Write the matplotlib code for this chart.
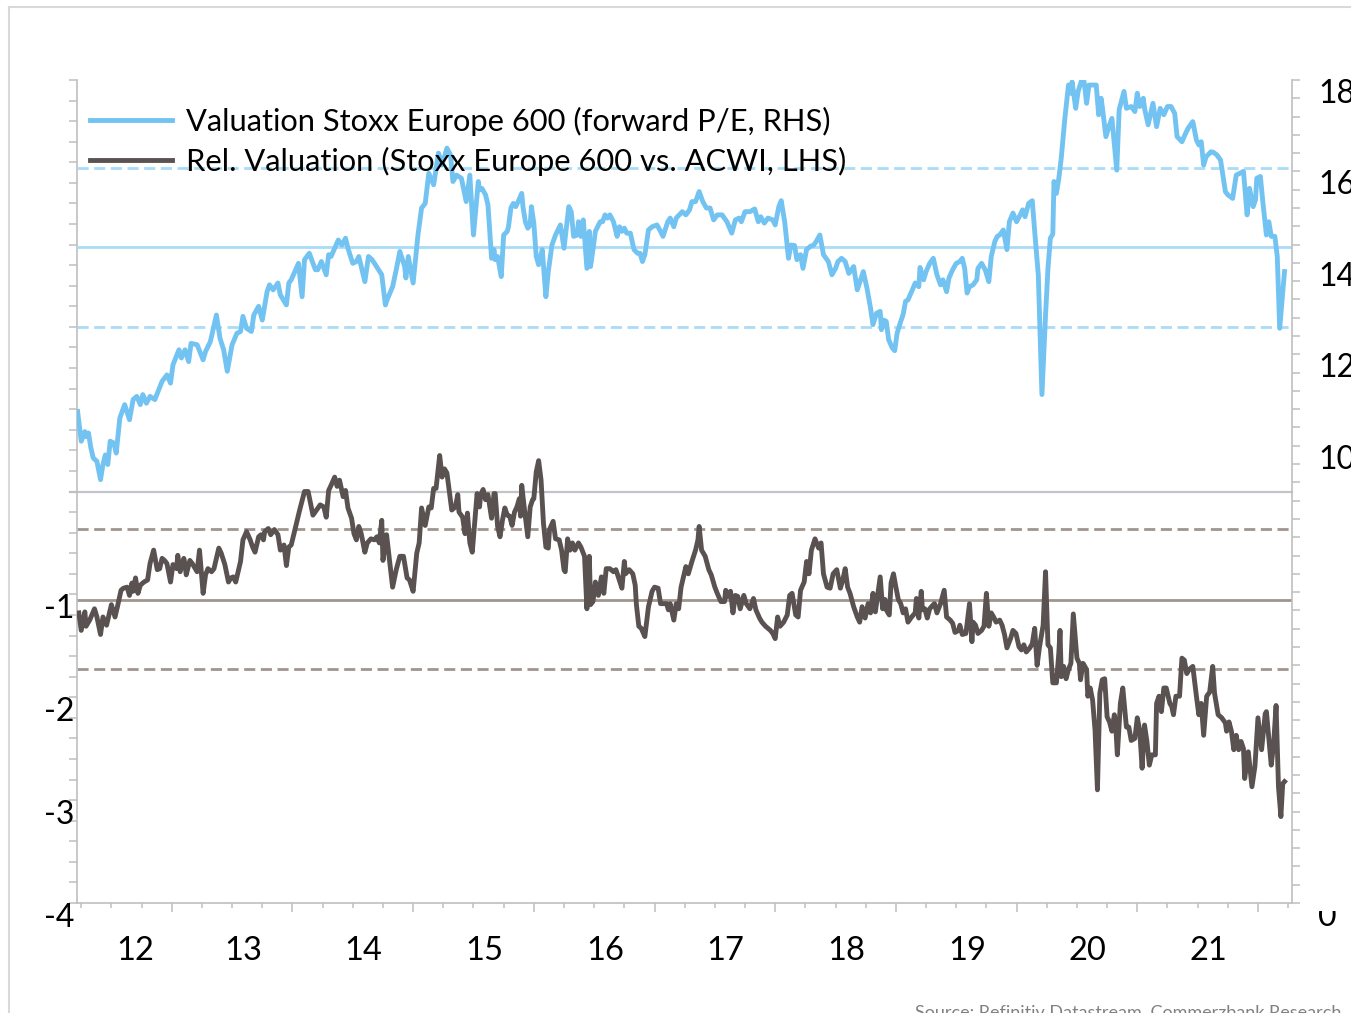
import matplotlib.pyplot as plt
import matplotlib.transforms as mtransforms
from matplotlib.patches import Rectangle
from matplotlib.lines import Line2D
import numpy as np

plt.rcParams['font.family'] = ['Lato', 'DejaVu Sans']

#===========================================================================================
# Datos
#===========================================================================================
# Valuation Stoxx Europe 600 (forward P/E, RHS)
pe_years = [
    2012.22, 2012.25, 2012.28, 2012.29, 2012.31, 2012.33, 2012.35, 2012.38, 2012.41, 2012.43,
    2012.45, 2012.47, 2012.49, 2012.52, 2012.54, 2012.57, 2012.61, 2012.65, 2012.68, 2012.71,
    2012.74, 2012.76, 2012.79, 2012.82, 2012.86, 2012.92, 2012.96, 2012.99, 2013.01, 2013.06,
    2013.08, 2013.11, 2013.14, 2013.16, 2013.21, 2013.26, 2013.28, 2013.32, 2013.37, 2013.40,
    2013.43, 2013.46, 2013.50, 2013.54, 2013.57, 2013.59, 2013.62, 2013.66, 2013.68, 2013.72,
    2013.75, 2013.79, 2013.81, 2013.84, 2013.88, 2013.90, 2013.95, 2013.97, 2013.99, 2014.05,
    2014.08, 2014.10, 2014.14, 2014.19, 2014.21, 2014.24, 2014.28, 2014.30, 2014.32, 2014.35,
    2014.38, 2014.41, 2014.44, 2014.46, 2014.50, 2014.53, 2014.55, 2014.60, 2014.63, 2014.66,
    2014.68, 2014.74, 2014.77, 2014.79, 2014.83, 2014.86, 2014.89, 2014.93, 2014.94, 2014.96,
    2015.00, 2015.04, 2015.07, 2015.10, 2015.13, 2015.17, 2015.21, 2015.24, 2015.28, 2015.31,
    2015.33, 2015.36, 2015.40, 2015.44, 2015.47, 2015.50,
    2015.54, 2015.55, 2015.57, 2015.60, 2015.62, 2015.65, 2015.67, 2015.68, 2015.70, 2015.73,
    2015.75, 2015.78, 2015.79, 2015.81, 2015.83, 2015.85, 2015.87, 2015.90, 2015.91, 2015.93,
    2015.95, 2015.97, 2015.98, 2016.00, 2016.02, 2016.04, 2016.07, 2016.10, 2016.12, 2016.15,
    2016.18, 2016.22, 2016.25, 2016.29, 2016.31, 2016.33, 2016.36, 2016.37, 2016.39, 2016.41,
    2016.44, 2016.46, 2016.47, 2016.49, 2016.51, 2016.55, 2016.57, 2016.59, 2016.61, 2016.63,
    2016.66, 2016.69, 2016.71, 2016.73, 2016.75, 2016.77, 2016.80, 2016.83, 2016.86, 2016.88,
    2016.90, 2016.92, 2016.95, 2016.98, 2017.02, 2017.05, 2017.07, 2017.11, 2017.13, 2017.16,
    2017.18, 2017.23, 2017.26, 2017.29, 2017.31, 2017.34, 2017.37, 2017.40, 2017.43, 2017.46,
    2017.49, 2017.52, 2017.56, 2017.60, 2017.64, 2017.67, 2017.70, 2017.72, 2017.75, 2017.79,
    2017.83, 2017.86, 2017.88, 2017.91, 2017.94, 2017.98, 2018.00, 2018.03, 2018.05, 2018.08,
    2018.11, 2018.13, 2018.16, 2018.18, 2018.21, 2018.23, 2018.26, 2018.29, 2018.32, 2018.34,
    2018.37, 2018.40, 2018.44, 2018.47, 2018.50, 2018.52, 2018.55, 2018.58, 2018.61, 2018.65,
    2018.68, 2018.73, 2018.76, 2018.79, 2018.81, 2018.84,
    2018.87, 2018.88, 2018.90, 2018.92, 2018.94, 2018.97, 2018.99, 2019.01, 2019.04, 2019.06,
    2019.08, 2019.10, 2019.13, 2019.16, 2019.19, 2019.20, 2019.23, 2019.25, 2019.28, 2019.31,
    2019.34, 2019.37, 2019.39, 2019.42, 2019.44, 2019.47, 2019.50, 2019.53, 2019.55, 2019.57,
    2019.59, 2019.61, 2019.64, 2019.67, 2019.68, 2019.71, 2019.74, 2019.77, 2019.79, 2019.82,
    2019.84, 2019.86, 2019.89, 2019.92, 2019.94, 2019.97, 2020.00, 2020.03, 2020.05, 2020.07,
    2020.10, 2020.13, 2020.15, 2020.18, 2020.21, 2020.24, 2020.26, 2020.28, 2020.30, 2020.31,
    2020.33, 2020.35, 2020.37, 2020.40, 2020.43, 2020.45, 2020.46, 2020.49, 2020.51, 2020.54,
    2020.56, 2020.58, 2020.60, 2020.64, 2020.66, 2020.68, 2020.70, 2020.71, 2020.74, 2020.77,
    2020.79, 2020.83, 2020.85, 2020.89, 2020.91, 2020.95, 2020.98, 2021.00, 2021.02, 2021.05,
    2021.06, 2021.09, 2021.13, 2021.16, 2021.19, 2021.22, 2021.25, 2021.28, 2021.31, 2021.33,
    2021.37, 2021.40, 2021.42, 2021.46, 2021.49, 2021.51, 2021.53, 2021.55, 2021.57, 2021.61,
    2021.63, 2021.66, 2021.69, 2021.73, 2021.75, 2021.79, 2021.82, 2021.85, 2021.88, 2021.91,
    2021.93, 2021.96, 2021.98, 2021.99, 2022.02, 2022.04, 2022.07, 2022.09, 2022.11, 2022.14,
    2022.16, 2022.18, 2022.22,
]
pe_values = [
    10.75, 10.10, 10.31, 10.20, 10.28, 9.95, 9.73, 9.66, 9.26, 9.59,
    9.80, 9.59, 10.10, 10.06, 9.84, 10.61, 10.90, 10.57, 11.01, 11.08,
    10.90, 11.12, 10.93, 11.08, 11.01, 11.41, 11.55, 11.37, 11.77, 12.10,
    11.92, 12.10, 11.84, 12.24, 12.21, 11.88, 12.06, 12.28, 12.86, 12.35,
    12.10, 11.63, 12.21, 12.46, 12.50, 12.83, 12.57, 12.50, 12.86, 13.05,
    12.75, 13.37, 13.52, 13.41, 13.56, 13.30, 13.08, 13.56, 13.63, 13.99,
    13.26, 14.07, 14.21, 13.85, 13.85, 14.03, 13.74, 14.18, 14.14, 14.32,
    14.50, 14.39, 14.54, 14.32, 13.99, 14.03, 14.14, 13.59, 14.14, 14.07,
    13.99, 13.74, 13.08, 13.23, 13.48, 13.85, 14.25, 13.92, 13.67, 14.14,
    13.56, 14.61, 15.20, 15.30, 15.96, 15.71, 16.40, 16.14, 16.51, 16.36,
    15.78, 15.92, 15.85, 15.34, 15.92, 14.61,
    15.78, 15.60, 15.63, 15.49, 15.27, 14.10, 14.29, 14.07, 14.14, 13.70,
    14.61, 14.69, 14.79, 15.20, 15.30, 15.23, 15.34, 15.52, 15.23, 14.90,
    14.76, 14.83, 15.23, 14.87, 14.14, 13.96, 14.29, 13.26, 13.81, 14.39,
    14.61, 14.83, 14.32, 15.23, 15.12, 14.58, 14.61, 14.90, 14.58, 14.94,
    13.88, 14.69, 13.92, 14.29, 14.69, 14.90, 14.90, 15.05, 14.98, 15.05,
    14.90, 14.58, 14.79, 14.69, 14.76, 14.65, 14.65, 14.29, 14.21, 14.21,
    14.03, 14.18, 14.72, 14.79, 14.83, 14.69, 14.58, 14.90, 14.98, 14.79,
    14.98, 15.12, 15.05, 15.16, 15.34, 15.34, 15.56, 15.34, 15.20, 15.20,
    14.94, 15.05, 15.05, 14.90, 14.65, 14.94, 14.98, 14.90, 15.12, 15.12,
    15.18, 14.90, 15.01, 14.87, 14.98, 14.94, 14.83, 15.23, 15.36, 14.87,
    14.10, 14.39, 14.38, 14.07, 14.18, 13.88, 14.29, 14.36, 14.39, 14.47,
    14.61, 14.18, 14.03, 13.74, 13.88, 14.03, 14.10, 14.03, 13.77, 13.92,
    13.41, 13.81, 13.45, 13.01, 12.65, 12.90,
    12.94, 12.54, 12.75, 12.72, 12.32, 12.14, 12.08, 12.46, 12.72, 12.87,
    13.16, 13.19, 13.37, 13.56, 13.48, 13.90, 13.63, 13.81, 13.99, 14.10,
    13.74, 13.52, 13.63, 13.37, 13.67, 13.85, 13.99, 14.03, 14.10, 13.88,
    13.34, 13.48, 13.52, 13.63, 13.88, 13.99, 13.85, 13.59, 14.14, 14.47,
    14.58, 14.61, 14.72, 14.29, 14.90, 15.09, 14.90, 15.05, 15.16, 15.01,
    15.30, 15.36, 14.69, 13.74, 11.12, 12.86, 13.88, 14.54, 14.63, 15.78,
    15.52, 15.85, 16.29, 17.16, 17.89, 17.71, 17.96, 17.38, 17.75, 18.00,
    17.96, 17.49, 17.89, 17.89, 17.89, 17.24, 17.60, 17.42, 16.76, 17.02,
    17.16, 16.03, 17.35, 17.75, 17.38, 17.42, 17.31, 17.71, 17.42, 17.60,
    17.38, 17.02, 17.49, 16.98, 17.38, 17.24, 17.42, 17.42, 17.27, 16.76,
    16.65, 16.83, 16.94, 17.09, 16.69, 16.58, 16.65, 16.14, 16.32, 16.43,
    16.42, 16.36, 16.25, 15.56, 15.49, 15.41, 15.92, 15.96, 16.00, 15.05,
    15.63, 15.23, 15.38, 15.85, 15.89, 15.34, 14.61, 14.90, 14.58, 14.58,
    14.14, 12.57, 13.81,
]

# Rel. Valuation (Stoxx Europe 600 vs. ACWI, LHS)
rel_years = [
    2012.23, 2012.25, 2012.28, 2012.29, 2012.32, 2012.36, 2012.38, 2012.41, 2012.43, 2012.46,
    2012.48, 2012.50, 2012.53, 2012.55, 2012.58, 2012.60, 2012.63, 2012.65, 2012.67, 2012.68,
    2012.70, 2012.72, 2012.74, 2012.77, 2012.80, 2012.82, 2012.85, 2012.88, 2012.90, 2012.92,
    2012.94, 2012.96, 2012.99, 2013.01, 2013.04, 2013.05, 2013.07, 2013.10, 2013.11, 2013.12,
    2013.15, 2013.17, 2013.21, 2013.23, 2013.26, 2013.28, 2013.30, 2013.33, 2013.35, 2013.39,
    2013.41, 2013.44, 2013.47, 2013.49, 2013.51, 2013.53, 2013.57, 2013.59, 2013.62, 2013.65,
    2013.67, 2013.69, 2013.72, 2013.74, 2013.76, 2013.77, 2013.80, 2013.82, 2013.85, 2013.88,
    2013.90, 2013.93, 2013.95, 2013.97, 2013.99, 2014.04, 2014.06, 2014.10, 2014.13, 2014.17,
    2014.20, 2014.23, 2014.26, 2014.28, 2014.30, 2014.32, 2014.35, 2014.37, 2014.39, 2014.42,
    2014.44, 2014.46, 2014.49, 2014.51, 2014.53, 2014.55, 2014.57, 2014.60, 2014.62, 2014.65,
    2014.68, 2014.70, 2014.72, 2014.74, 2014.75, 2014.78, 2014.81, 2014.83, 2014.86, 2014.89,
    2014.92, 2014.95, 2014.97, 2015.00, 2015.03, 2015.05, 2015.07, 2015.10, 2015.13, 2015.15,
    2015.17, 2015.19, 2015.22, 2015.24, 2015.26, 2015.28, 2015.32, 2015.35, 2015.37, 2015.38,
    2015.41, 2015.43, 2015.45, 2015.47, 2015.49,
    2015.53, 2015.55, 2015.56, 2015.58, 2015.60, 2015.62, 2015.65, 2015.67, 2015.68, 2015.70,
    2015.72, 2015.74, 2015.76, 2015.78, 2015.80, 2015.82, 2015.84, 2015.86, 2015.88, 2015.89,
    2015.90, 2015.92, 2015.95, 2015.97, 2015.99, 2016.00, 2016.02, 2016.04, 2016.06, 2016.08,
    2016.10, 2016.12, 2016.13, 2016.16, 2016.18, 2016.21, 2016.23, 2016.25, 2016.26, 2016.28,
    2016.30, 2016.32, 2016.34, 2016.37, 2016.39, 2016.42, 2016.44, 2016.46, 2016.47, 2016.49,
    2016.51, 2016.535, 2016.56, 2016.58, 2016.60, 2016.63, 2016.66, 2016.68, 2016.70, 2016.73,
    2016.75, 2016.76, 2016.79, 2016.82, 2016.84, 2016.85, 2016.87, 2016.89, 2016.92, 2016.95,
    2016.98, 2017.00, 2017.03, 2017.05, 2017.07, 2017.10, 2017.115, 2017.13, 2017.16, 2017.18,
    2017.20, 2017.22, 2017.24, 2017.26, 2017.28, 2017.31, 2017.34, 2017.36, 2017.37, 2017.39,
    2017.42, 2017.45, 2017.47, 2017.50, 2017.52, 2017.55, 2017.58, 2017.59, 2017.61, 2017.63,
    2017.65, 2017.67, 2017.69, 2017.71, 2017.74, 2017.76, 2017.79, 2017.82, 2017.84, 2017.87,
    2017.89, 2017.92, 2017.96, 2017.98, 2018.00, 2018.02, 2018.04, 2018.07, 2018.10, 2018.12,
    2018.14, 2018.17, 2018.19, 2018.21, 2018.24, 2018.26, 2018.28, 2018.30, 2018.33, 2018.36,
    2018.38, 2018.40, 2018.43, 2018.455, 2018.48, 2018.51, 2018.54, 2018.56, 2018.58, 2018.60,
    2018.62, 2018.65, 2018.68, 2018.70, 2018.72, 2018.745, 2018.77, 2018.79, 2018.81, 2018.83,
    2018.87, 2018.89, 2018.91, 2018.92, 2018.945, 2018.96, 2018.98, 2019.00, 2019.02, 2019.04,
    2019.06, 2019.08, 2019.10, 2019.13, 2019.16, 2019.17, 2019.19, 2019.21, 2019.22, 2019.24,
    2019.26, 2019.28, 2019.31, 2019.32, 2019.34, 2019.37, 2019.40, 2019.42, 2019.45, 2019.47,
    2019.49, 2019.52, 2019.53, 2019.55, 2019.58, 2019.61, 2019.63, 2019.64, 2019.66, 2019.68,
    2019.71, 2019.73, 2019.75, 2019.77, 2019.79, 2019.81, 2019.83, 2019.86, 2019.88, 2019.90,
    2019.92, 2019.95, 2019.97, 2019.995, 2020.02, 2020.04, 2020.06, 2020.08, 2020.11, 2020.13,
    2020.15, 2020.17, 2020.19, 2020.22, 2020.24, 2020.26, 2020.28, 2020.30, 2020.33, 2020.35,
    2020.36, 2020.37, 2020.39, 2020.41, 2020.43, 2020.45, 2020.47, 2020.50, 2020.52, 2020.53,
    2020.55, 2020.58, 2020.59, 2020.61, 2020.63, 2020.65, 2020.67, 2020.69, 2020.71, 2020.73,
    2020.75, 2020.77, 2020.79, 2020.81, 2020.82, 2020.835, 2020.86, 2020.88, 2020.91, 2020.93,
    2020.95, 2020.98, 2021.00, 2021.02, 2021.04, 2021.06, 2021.08, 2021.10, 2021.12, 2021.15,
    2021.16, 2021.18, 2021.20, 2021.22, 2021.24, 2021.27, 2021.285, 2021.30, 2021.32, 2021.35,
    2021.37, 2021.39, 2021.41, 2021.43, 2021.46, 2021.49, 2021.51, 2021.53, 2021.55, 2021.575,
    2021.60, 2021.625, 2021.64, 2021.67, 2021.70, 2021.73, 2021.74, 2021.76, 2021.78, 2021.80,
    2021.82, 2021.84, 2021.86, 2021.88, 2021.89, 2021.92, 2021.95, 2021.975, 2022.00, 2022.03,
    2022.06, 2022.07, 2022.11, 2022.13, 2022.15, 2022.17, 2022.19, 2022.205, 2022.22,
]
rel_values = [
    -1.18, -1.35, -1.17, -1.31, -1.25, -1.14, -1.22, -1.39, -1.22, -1.30,
    -1.20, -1.10, -1.22, -1.12, -0.96, -0.94, -0.93, -1.01, -0.89, -0.97,
    -0.84, -0.99, -0.91, -0.88, -0.86, -0.70, -0.57, -0.76, -0.75, -0.65,
    -0.67, -0.70, -0.88, -0.71, -0.75, -0.62, -0.78, -0.65, -0.71, -0.81,
    -0.67, -0.70, -0.78, -0.57, -0.99, -0.81, -0.75, -0.78, -0.75, -0.55,
    -0.60, -0.71, -0.88, -0.84, -0.83, -0.88, -0.68, -0.47, -0.39, -0.47,
    -0.54, -0.59, -0.44, -0.42, -0.47, -0.39, -0.36, -0.42, -0.37, -0.42,
    -0.57, -0.52, -0.72, -0.54, -0.52, -0.28, -0.18, 0.00, 0.00, -0.23,
    -0.18, -0.13, -0.15, -0.25, 0.01, 0.06, 0.14, 0.05, 0.11, -0.05,
    0.01, -0.16, -0.26, -0.41, -0.47, -0.34, -0.41, -0.59, -0.50, -0.46,
    -0.47, -0.44, -0.50, -0.28, -0.67, -0.42, -0.73, -0.93, -0.76, -0.63,
    -0.63, -0.84, -0.86, -0.97, -0.60, -0.50, -0.16, -0.33, -0.15, -0.16,
    0.03, 0.03, 0.35, 0.14, 0.22, 0.18, -0.18, -0.15, -0.03, -0.20,
    -0.25, -0.41, -0.21, -0.50, -0.59,
    -0.02, -0.15, -0.03, 0.02, -0.08, -0.03, -0.26, -0.02, -0.02, -0.34,
    -0.44, -0.28, -0.16, -0.23, -0.24, -0.33, -0.20, -0.15, -0.07, -0.24,
    0.06, -0.15, -0.44, -0.15, -0.08, -0.07, 0.19, 0.30, 0.11, -0.31,
    -0.54, -0.55, -0.37, -0.29, -0.46, -0.47, -0.57, -0.76, -0.78, -0.46,
    -0.57, -0.50, -0.57, -0.50, -0.54, -0.63, -1.14, -0.63, -1.10, -1.07,
    -0.88, -1.01, -0.83, -0.99, -0.75, -0.75, -0.78, -0.76, -0.83, -0.94,
    -0.68, -0.80, -0.76, -0.80, -0.91, -1.10, -1.31, -1.33, -1.41, -1.12,
    -0.97, -0.93, -0.94, -1.09, -1.09, -1.09, -1.15, -1.09, -1.25, -1.09,
    -1.14, -0.93, -0.83, -0.73, -0.80, -0.68, -0.57, -0.47, -0.34, -0.57,
    -0.63, -0.76, -0.81, -0.93, -0.99, -1.07, -1.07, -0.96, -1.02, -0.97,
    -1.18, -1.01, -1.02, -1.14, -1.01, -1.09, -1.14, -1.04, -1.15, -1.23,
    -1.27, -1.31, -1.35, -1.38, -1.43, -1.22, -1.31, -1.27, -1.20, -1.01,
    -0.99, -1.20, -1.22, -0.96, -0.88, -0.68, -0.80, -0.57, -0.46, -0.55,
    -0.50, -0.80, -0.93, -0.94, -0.80, -0.76, -0.94, -0.86, -0.75, -0.93,
    -0.99, -1.12, -1.22, -1.27, -1.12, -1.23, -1.09, -1.18, -0.99, -1.17,
    -0.83, -1.14, -1.05, -1.15, -1.20, -0.89, -0.80, -0.93, -1.05, -1.09,
    -1.18, -1.14, -1.27, -1.22, -1.18, -1.04, -1.23, -0.97, -1.15, -1.14,
    -1.23, -1.14, -1.10, -1.09, -1.18, -1.09, -0.96, -1.22, -1.25, -1.28,
    -1.37, -1.35, -1.30, -1.39, -1.38, -1.09, -1.46, -1.27, -1.30, -1.38,
    -1.35, -1.31, -0.99, -1.31, -1.18, -1.22, -1.27, -1.25, -1.30, -1.39,
    -1.52, -1.43, -1.35, -1.38, -1.51, -1.54, -1.49, -1.56, -1.52, -1.48,
    -1.33, -1.69, -1.51, -1.30, -0.78, -1.49, -1.52, -1.86, -1.86, -1.57,
    -1.35, -1.80, -1.70, -1.82, -1.73, -1.67, -1.19, -1.62, -1.67, -1.83,
    -1.67, -1.73, -1.99, -1.91, -2.03, -2.32, -2.90, -1.96, -1.83, -1.82,
    -2.19, -2.24, -2.33, -2.17, -2.25, -2.56, -2.06, -1.91, -2.29, -2.29,
    -2.42, -2.40, -2.20, -2.32, -2.69, -2.27, -2.43, -2.66, -2.56, -2.56,
    -2.06, -1.99, -2.14, -1.91, -1.91, -2.06, -2.09, -2.17, -1.99, -1.99,
    -1.62, -1.64, -1.77, -1.73, -1.70, -1.99, -2.17, -2.06, -2.37, -1.99,
    -1.95, -1.70, -1.96, -2.17, -2.20, -2.25, -2.33, -2.24, -2.33, -2.51,
    -2.37, -2.51, -2.43, -2.50, -2.79, -2.53, -2.87, -2.67, -2.20, -2.51,
    -2.16, -2.14, -2.66, -2.45, -2.08, -2.87, -3.16, -2.84, -2.82,
]

# Media y +/- una desviacion estandar
pe_mean, pe_upper, pe_lower = 14.34, 16.07, 12.59
rel_mean, rel_upper, rel_lower = -1.05, -0.36, -1.73

year_labels = ['12', '13', '14', '15', '16', '17', '18', '19', '20', '21']
label_years = [2012, 2013, 2014, 2015, 2016, 2017, 2018, 2019, 2020, 2021]
left_labels = [-1, -2, -3, -4]
right_labels = [0, 10, 12, 14, 16, 18]

#===========================================================================================
# Colores
#===========================================================================================
c_blue = '#72C3F1'
c_blue_ref = '#A8DCF7'
c_gray = '#595250'
c_gray_ref = '#A0958F'
c_axis = '#BFBFBF'

#===========================================================================================
# Figura
#===========================================================================================
W, H = 1351, 1013
fig = plt.figure(figsize=(W / 100, H / 100), dpi=100)
ax = fig.add_axes([77 / W, 1 - 903 / H, 1215 / W, 823 / H])
ax2 = ax.twinx()

xmin, xmax = 2012.215, 2022.282
ax.set_xlim(xmin, xmax)
ax.set_ylim(-4, 4)
ax2.set_ylim(0, 18)

# lineas de referencia (LHS)
ax.axhline(0, xmin=-7 / 1215, xmax=1, color='#C3C3CA', lw=1.6, clip_on=False, zorder=1)
ax.axhline(rel_mean, color=c_gray_ref, lw=2.0, zorder=1)
ax.axhline(rel_upper, color=c_gray_ref, lw=2.0, ls=(0, (4, 2)), zorder=1)
ax.axhline(rel_lower, color=c_gray_ref, lw=2.0, ls=(0, (4, 2)), zorder=1)

# lineas de referencia (RHS)
ax2.axhline(pe_mean, color=c_blue_ref, lw=2.0, zorder=1)
ax2.axhline(pe_upper, color=c_blue_ref, lw=2.0, ls=(0, (4, 2)), zorder=1)
ax2.axhline(pe_lower, color=c_blue_ref, lw=2.0, ls=(0, (4, 2)), zorder=1)

# series
l_rel, = ax.plot(rel_years, rel_values, color=c_gray, lw=3.5, solid_joinstyle='round', zorder=3)
l_pe, = ax2.plot(pe_years, pe_values, color=c_blue, lw=3.5, solid_joinstyle='round', zorder=3)

#===========================================================================================
# Ejes
#===========================================================================================
for a in (ax, ax2):
    a.spines['top'].set_visible(False)
    for s in a.spines.values():
        s.set_color(c_axis)
        s.set_linewidth(1.2)
ax.spines['right'].set_visible(False)
ax2.spines['left'].set_visible(False)
ax2.spines['bottom'].set_visible(False)

tick_len = 8 * 0.72
ax.set_yticks(np.arange(-4, 4.01, 1))
ax.set_yticks(np.arange(-4, 4.01, 0.2), minor=True)
ax.tick_params(axis='y', which='both', length=tick_len, width=1.1, color=c_axis,
               labelleft=False)
ax2.set_yticks(np.arange(0, 18.01, 2))
ax2.set_yticks(np.arange(0, 18.01, 0.4), minor=True)
ax2.tick_params(axis='y', which='both', length=tick_len, width=1.1, color=c_axis,
                labelright=False)

ax.set_xticks(np.arange(2013, 2023, 1))
ax.set_xticks(np.arange(2012.25, 2022.3, 0.25), minor=True)
ax.tick_params(axis='x', which='major', length=9 * 0.72, width=1.1, color=c_axis,
               labelbottom=False)
ax.tick_params(axis='x', which='minor', length=5 * 0.72, width=1.1, color=c_axis)

px = fig.dpi_scale_trans
def shift(dx, dy):
    return mtransforms.ScaledTranslation(dx / 100, dy / 100, px)

t_left = mtransforms.blended_transform_factory(ax.transAxes, ax.transData)
for v in left_labels:
    ax.text(0, v, str(v), transform=t_left + shift(-3, -15), ha='right', va='center',
            fontsize=23, color='black')

t_right = mtransforms.blended_transform_factory(ax2.transAxes, ax2.transData)
for v in right_labels:
    ax2.text(1, v, str(v), transform=t_right + shift(26, -14), ha='left', va='center',
             fontsize=23, color='black', clip_on=False)

t_x = mtransforms.blended_transform_factory(ax.transData, ax.transAxes)
for yr, lab in zip(label_years, year_labels):
    pos = (max(yr, xmin) + min(yr + 1, xmax)) / 2 + 0.09
    ax.text(pos, 0, lab, transform=t_x + shift(0, -48), ha='center', va='center',
            fontsize=23.5, color='black')

#===========================================================================================
# Leyenda
#===========================================================================================
leg = ax2.legend([l_pe, l_rel],
                 ['Valuation Stoxx Europe 600 (forward P/E, RHS)',
                  'Rel. Valuation (Stoxx Europe 600 vs. ACWI, LHS)'],
                 loc='upper left', bbox_to_anchor=(90 / W, 1 - 107 / H),
                 bbox_transform=fig.transFigure, frameon=False, fontsize=22.2,
                 handlelength=2.65, handletextpad=0.46, labelspacing=0.35,
                 borderpad=0, borderaxespad=0)
leg.set_zorder(5)

#===========================================================================================
# Marco y textos de la figura
#===========================================================================================
fig.add_artist(Line2D([9 / W, 9 / W], [0, 1 - 7 / H], color='#D9D9D9', lw=1.5))
fig.add_artist(Line2D([9 / W, 1], [1 - 7 / H, 1 - 7 / H], color='#D9D9D9', lw=1.5))

# etiqueta 0 del eje derecho tapada en parte
fig.add_artist(Rectangle((1305 / W, 1 - 911 / H), 46 / W, 30 / H, facecolor='white',
                         edgecolor='none', zorder=5))

fig.text(915 / W, 1 - 1005 / H, 'Source: Refinitiv Datastream, Commerzbank Research',
         ha='left', va='top', fontsize=13, color='#808080')

fig.savefig('out.png', dpi=100)
